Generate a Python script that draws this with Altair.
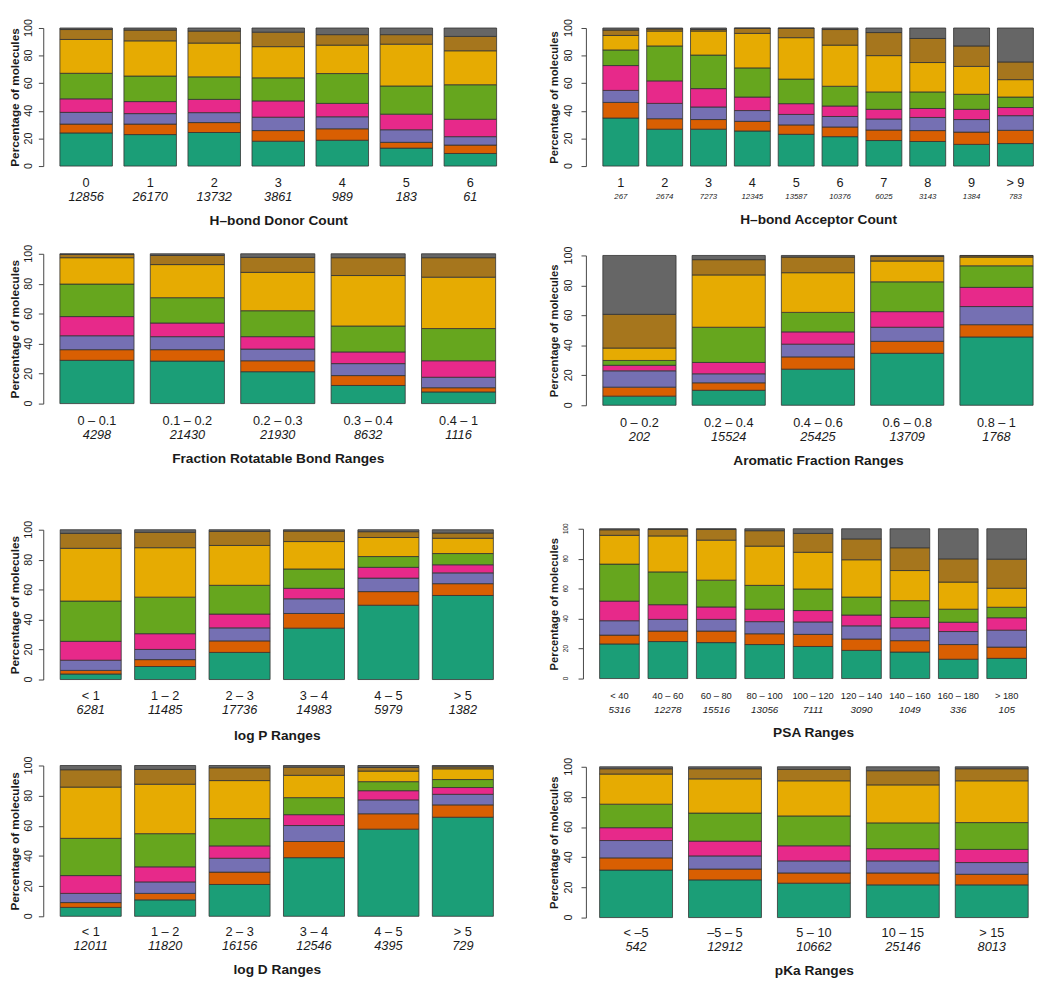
import json
import altair as alt
import pandas as pd

FONT = "Liberation Sans"
SEGMENTS = ["c1", "c2", "c3", "c4", "c5", "c6", "c7", "c8"]
COLORS = ["#1B9E77", "#D95F02", "#7570B3", "#E7298A", "#66A61E", "#E6AB02", "#A6761D", "#666666"]
Y_TICKS = [0, 20, 40, 60, 80, 100]

# ---- data: category labels, counts, cumulative segment tops (last segment tops at 100) ----
donor_labels = ["0", "1", "2", "3", "4", "5", "6"]
donor_counts = [12856, 26170, 13732, 3861, 989, 183, 61]
donor_cum = [
    [24.0, 30.4, 38.9, 48.7, 67.2, 91.7, 98.9],
    [22.8, 30.4, 38.0, 46.7, 65.2, 90.7, 98.5],
    [24.3, 31.5, 38.7, 48.3, 64.6, 89.1, 97.8],
    [18.0, 25.7, 35.4, 47.2, 63.9, 86.5, 97.0],
    [18.7, 27.0, 35.7, 45.4, 67.0, 87.6, 95.2],
    [13.0, 17.2, 26.3, 37.6, 58.0, 88.3, 95.2],
    [9.1, 15.2, 21.3, 33.9, 58.9, 83.5, 93.9],
]

acc_labels = ["1", "2", "3", "4", "5", "6", "7", "8", "9", "> 9"]
acc_counts = [267, 2674, 7273, 12345, 13587, 10376, 6025, 3143, 1384, 783]
acc_cum = [
    [34.8, 46.1, 54.8, 72.8, 84.1, 94.6, 98.5],
    [26.7, 34.3, 45.4, 61.7, 87.0, 97.8, 99.3],
    [26.7, 33.7, 42.8, 56.1, 80.4, 97.8, 98.9],
    [25.4, 32.4, 40.2, 50.0, 71.1, 96.1, 99.8],
    [23.0, 29.8, 37.4, 45.2, 63.0, 93.0, 99.8],
    [21.3, 28.3, 35.9, 43.5, 57.8, 87.6, 98.9],
    [18.5, 26.1, 34.1, 41.1, 53.7, 80.0, 96.7],
    [17.8, 25.7, 35.2, 41.7, 53.7, 75.0, 92.4],
    [15.7, 24.6, 33.7, 41.1, 52.0, 72.2, 87.0],
    [16.3, 25.9, 36.5, 42.4, 50.0, 62.6, 75.4],
]

rot_labels = ["0 – 0.1", "0.1 – 0.2", "0.2 – 0.3", "0.3 – 0.4", "0.4 – 1"]
rot_counts = [4298, 21430, 21930, 8632, 1116]
rot_cum = [
    [28.9, 36.0, 45.3, 58.1, 79.8, 97.4, 99.6],
    [28.4, 36.0, 44.7, 53.8, 70.7, 92.8, 98.9],
    [21.3, 28.6, 36.4, 44.7, 62.0, 87.6, 97.6],
    [12.1, 18.7, 26.7, 34.5, 51.8, 85.5, 97.4],
    [7.8, 10.6, 17.6, 28.6, 50.1, 84.4, 97.4],
]

aro_labels = ["0 – 0.2", "0.2 – 0.4", "0.4 – 0.6", "0.6 – 0.8", "0.8 – 1"]
aro_counts = [202, 15524, 25425, 13709, 1768]
aro_cum = [
    [6.1, 12.1, 23.0, 26.7, 29.9, 38.2, 60.7],
    [10.0, 15.0, 21.0, 28.6, 52.1, 87.0, 97.2],
    [24.1, 32.3, 40.8, 49.0, 62.0, 88.5, 98.9],
    [34.7, 42.7, 52.1, 62.5, 82.4, 96.3, 99.3],
    [45.6, 53.8, 65.9, 78.7, 93.1, 98.9, 99.8],
]

logp_labels = ["< 1", "1 – 2", "2 – 3", "3 – 4", "4 – 5", "> 5"]
logp_counts = [6281, 11485, 17736, 14983, 5979, 1382]
logp_cum = [
    [3.7, 6.1, 12.9, 25.5, 52.4, 87.6, 97.6],
    [8.7, 13.3, 20.1, 30.6, 55.0, 88.0, 98.3],
    [18.1, 25.8, 34.5, 43.7, 62.9, 89.5, 98.9],
    [34.3, 44.1, 53.9, 60.9, 73.8, 92.1, 99.1],
    [49.6, 58.7, 67.7, 74.9, 82.1, 94.8, 98.7],
    [56.1, 64.0, 71.2, 76.6, 84.1, 94.3, 97.8],
]

psa_labels = ["< 40", "40 – 60", "60 – 80", "80 – 100", "100 – 120", "120 – 140",
              "140 – 160", "160 – 180", "> 180"]
psa_counts = [5316, 12278, 15516, 13056, 7111, 3090, 1049, 336, 105]
psa_cum = [
    [23.1, 29.0, 38.6, 51.7, 76.4, 95.6, 99.3],
    [24.7, 31.7, 39.5, 49.3, 71.2, 95.2, 99.6],
    [24.0, 31.7, 39.5, 47.8, 65.7, 92.4, 99.6],
    [22.7, 29.9, 38.0, 46.3, 62.2, 88.4, 98.7],
    [21.4, 29.5, 37.8, 45.4, 59.8, 84.3, 96.9],
    [18.8, 26.4, 35.2, 42.4, 54.4, 79.3, 93.2],
    [17.7, 25.3, 33.8, 40.8, 52.0, 72.1, 87.3],
    [12.9, 22.7, 31.4, 37.6, 46.3, 64.4, 79.9],
    [13.5, 21.0, 32.3, 40.6, 47.6, 60.3, 79.7],
]

logd_labels = ["< 1", "1 – 2", "2 – 3", "3 – 4", "4 – 5", "> 5"]
logd_counts = [12011, 11820, 16156, 12546, 4395, 729]
logd_cum = [
    [5.9, 9.1, 15.2, 27.0, 51.7, 85.7, 97.2],
    [10.9, 15.2, 22.8, 32.8, 54.8, 87.6, 97.4],
    [21.1, 29.3, 38.5, 46.7, 64.8, 90.0, 98.5],
    [38.9, 49.6, 60.2, 67.4, 78.7, 93.5, 98.9],
    [57.8, 68.0, 77.2, 83.3, 89.3, 96.3, 98.7],
    [65.7, 73.9, 80.9, 85.4, 90.7, 97.8, 99.1],
]

pka_labels = ["< –5", "–5 – 5", "5 – 10", "10 – 15", "> 15"]
pka_counts = [542, 12912, 10662, 25146, 8013]
pka_cum = [
    [31.5, 39.6, 51.1, 59.6, 75.2, 95.2, 98.7],
    [25.0, 32.2, 40.9, 50.7, 69.3, 92.0, 98.7],
    [22.8, 29.6, 37.6, 47.6, 67.4, 90.7, 98.3],
    [21.7, 29.6, 37.6, 45.7, 62.8, 88.0, 97.4],
    [21.7, 28.7, 36.5, 45.2, 63.0, 90.7, 98.7],
]


def panel(labels, counts, cum, title, first, last, L, height, yoff,
          lab_fs, cnt_fs, lab_pad, cnt_pad, title_pad, ytick_fs, ytitle_fs,
          ytitle_pad, ylab_gap):
    n = len(labels)
    pin = 0.18
    step = (last - first) / (n - pin)
    pout = (first - L) / step
    width = first + last - 2 * L
    rows = []
    for lab, c in zip(labels, cum):
        tops = list(c) + [100.0]
        lo = 0.0
        for seg, hi in zip(SEGMENTS, tops):
            rows.append({"cat": lab, "seg": seg, "y0": lo, "y1": hi})
            lo = hi
    df = pd.DataFrame(rows)
    tick_df = pd.DataFrame({"v": Y_TICKS, "t": [str(v) for v in Y_TICKS]})
    mapping = json.dumps({l: str(c) for l, c in zip(labels, counts)}, ensure_ascii=False)
    xscale = alt.Scale(domain=labels, paddingInner=pin, paddingOuter=pout, round=False)
    yscale = alt.Scale(domain=[0, 100], nice=False, zero=True)
    yaxis = alt.Axis(
        values=Y_TICKS, title="Percentage of molecules", labels=False,
        titleFontSize=ytitle_fs, titleFontWeight="bold", titleColor="#1a1a1a",
        titlePadding=ytitle_pad, tickSize=5, tickColor="#444444",
        domainColor="#444444", grid=False, offset=yoff)
    bars = alt.Chart(df).mark_bar(stroke="#333333", strokeWidth=0.9, strokeOpacity=0.9).encode(
        x=alt.X("cat:N", scale=xscale, axis=alt.Axis(
            title=None, domain=False, ticks=False, tickSize=0, labelAngle=0,
            labelPadding=lab_pad, labelFontSize=lab_fs, labelColor="#1a1a1a",
            labelOverlap=False)),
        y=alt.Y("y0:Q", scale=yscale, axis=yaxis),
        y2="y1:Q",
        color=alt.Color("seg:N", scale=alt.Scale(domain=SEGMENTS, range=COLORS), legend=None),
    )
    ghost = alt.Chart(df).mark_bar(opacity=0).encode(
        x=alt.X("cat:N", scale=xscale, axis=alt.Axis(
            orient="bottom", title=title, domain=False, ticks=False, tickSize=0,
            labelAngle=0, labelPadding=cnt_pad, labelFontSize=cnt_fs,
            labelFontStyle="italic", labelColor="#1a1a1a", labelOverlap=False,
            labelExpr=f"{mapping}[datum.value]",
            titleFontSize=14, titleFontWeight="bold", titleColor="#1a1a1a",
            titlePadding=title_pad)),
    )
    ylabels = alt.Chart(tick_df).mark_text(
        angle=270, align="center", baseline="bottom", fontSize=ytick_fs,
        font=FONT, color="#1a1a1a").encode(
        y=alt.Y("v:Q", scale=yscale, axis=yaxis),
        x=alt.value(-(yoff + 5 + ylab_gap)),
        text="t:N",
    )
    return alt.layer(bars, ghost, ylabels).resolve_axis(x="independent").properties(
        width=width, height=height)


LL = 52
LR = 594

p1 = panel(donor_labels, donor_counts, donor_cum, "H–bond Donor Count", 59, 505, LL, 141, 10,
           13, 13, 10.7, 25.2, 10.0, 11, 12, 16.9, 5)
p3 = panel(rot_labels, rot_counts, rot_cum, "Fraction Rotatable Bond Ranges", 59, 504, LL, 153, 10,
           13, 13, 11.4, 25.9, 10.3, 11, 12, 16.9, 5)
p5 = panel(logp_labels, logp_counts, logp_cum, "log P Ranges", 59.3, 501.7, LL, 153, 10,
           13, 13, 10.4, 24.9, 12.3, 11, 12, 16.9, 5)
p7 = panel(logd_labels, logd_counts, logd_cum, "log D Ranges", 59.3, 501.7, LL, 154, 10,
           13, 13, 9.7, 24.2, 10.0, 11, 12, 16.9, 5)

p2 = panel(acc_labels, acc_counts, acc_cum, "H–bond Acceptor Count", 602.3, 1042, LR, 141, 9,
           13, 8, 10.7, 27.5, 12.5, 11, 11.5, 21, 7)
p4 = panel(aro_labels, aro_counts, aro_cum, "Aromatic Fraction Ranges", 602.3, 1041.7, LR, 153, 9,
           13, 13, 11.4, 25.9, 10.3, 11, 11.5, 21, 7)
p6 = panel(psa_labels, psa_counts, psa_cum, "PSA Ranges", 599, 1035, LR, 153, 12,
           9.5, 10, 12.7, 26.4, 12, 6.5, 11.5, 19, 9)
p8 = panel(pka_labels, pka_counts, pka_cum, "pKa Ranges", 599, 1036.7, LR, 154, 9,
           13, 13, 9.4, 23.9, 10.3, 11, 11.5, 21, 7)

left = alt.vconcat(p1, alt.vconcat(p3, alt.vconcat(p5, p7, spacing=12.8), spacing=54.8),
                   spacing=16.6)
right = alt.vconcat(p2, alt.vconcat(p4, alt.vconcat(p6, p8, spacing=17.1), spacing=56.1),
                    spacing=19.3)

chart = alt.hconcat(left, right, spacing=45.2).properties(
    padding={"left": 0, "top": 0, "right": 0, "bottom": 0}
).configure(font=FONT).configure_view(stroke=None).configure_axis(
    labelFont=FONT, titleFont=FONT
)

chart.save("out.html", embed_options={"renderer": "svg", "actions": False})
